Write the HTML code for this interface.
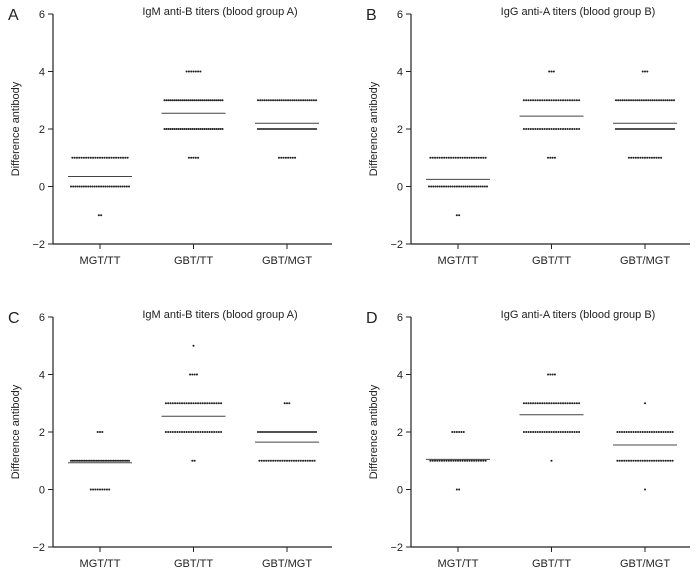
<!DOCTYPE html>
<html><head><meta charset="utf-8"><style>
body{margin:0;background:#fff;}
svg text{font-family:"Liberation Sans",sans-serif;fill:#222;}
</style></head><body>
<svg id="c" width="699" height="575"></svg>
<script>
const categories=["MGT/TT","GBT/TT","GBT/MGT"];
const yTicks=[-2,0,2,4,6];
const panelLetters=["A","B","C","D"];
const panelTitles=["IgM anti-B titers (blood group A)","IgG anti-A titers (blood group B)","IgM anti-B titers (blood group A)","IgG anti-A titers (blood group B)"];
// counts of dots at each level: [value,count]
const countsA=[[[1,25],[0,28],[-1,2]],[[4,7],[3,30],[2,30],[1,5]],[[3,28],[2,30],[1,8]]];
const countsB=[[[1,25],[0,28],[-1,2]],[[4,3],[3,25],[2,25],[1,4]],[[4,3],[3,28],[2,30],[1,15]]];
const countsC=[[[2,3],[1,35],[0,9]],[[5,1],[4,4],[3,25],[2,25],[1,2]],[[3,3],[2,30],[1,25]]];
const countsD=[[[2,6],[1,25],[0,2]],[[4,4],[3,25],[2,25],[1,1]],[[3,1],[2,25],[1,25],[0,1]]];
const meansA=[0.35,2.55,2.2];
const meansB=[0.25,2.45,2.2];
const meansC=[0.93,2.55,1.65];
const meansD=[1.05,2.6,1.55];
const allCounts=[countsA,countsB,countsC,countsD];
const allMeans=[meansA,meansB,meansC,meansD];
const panels=[{ox:53,top:14},{ox:411,top:14},{ox:53,top:317},{ox:411,top:317}];
const svg=document.getElementById('c');
const NS="http://www.w3.org/2000/svg";
function mk(t,a,p){const e=document.createElementNS(NS,t);for(const k in a)e.setAttribute(k,a[k]);(p||svg).appendChild(e);return e;}
panels.forEach((P,pi)=>{
  const g=mk('g',{});
  
  
  const bottom=P.top+230, W=279;
  const y=v=>P.top+(6-v)/8*230;
  const x=i=>P.ox+47+i*93.5;
  const lt=mk('text',{x:P.ox-45,y:P.top+6,'font-size':16},g);lt.textContent=panelLetters[pi];
  
  const tt=mk('text',{x:P.ox+167,y:P.top+1,'font-size':11,'text-anchor':'middle'},g);tt.textContent=panelTitles[pi];
  
  const yl=mk('text',{x:0,y:0,'font-size':11,'text-anchor':'middle',transform:`translate(${P.ox-34},${y(2)}) rotate(-90)`},g);yl.textContent="Difference antibody";
  
  const ya=mk('line',{x1:P.ox,y1:P.top,x2:P.ox,y2:bottom,stroke:'#222','stroke-width':1.2},g);
  
  const xa=mk('line',{x1:P.ox,y1:bottom,x2:P.ox+W,y2:bottom,stroke:'#222','stroke-width':1.2},g);
  
  yTicks.forEach(v=>{
    mk('line',{x1:P.ox-5,y1:y(v),x2:P.ox,y2:y(v),stroke:'#222'},g);
    const t=mk('text',{x:P.ox-8,y:y(v)+4,'font-size':11,'text-anchor':'end'},g);t.textContent=v<0?'\u2212'+(-v):v;
    
  });
  categories.forEach((c,i)=>{
    mk('line',{x1:x(i),y1:bottom,x2:x(i),y2:bottom+5,stroke:'#222'},g);
    const t=mk('text',{x:x(i),y:bottom+20,'font-size':11,'text-anchor':'middle'},g);t.textContent=c;
    
    allCounts[pi][i].forEach(([v,n])=>{
      const sp=Math.min(2.3,58/Math.max(n-1,1));
      for(let k=0;k<n;k++){
        const d=mk('circle',{cx:x(i)+(k-(n-1)/2)*sp,cy:y(v),r:1.05,fill:'#222'},g);
        
      }
    });
    const m=allMeans[pi][i];
    const ml=mk('line',{x1:x(i)-32,x2:x(i)+32,y1:y(m),y2:y(m),stroke:'#444','stroke-width':1},g);
    
  });
});
</script>
</body></html>
